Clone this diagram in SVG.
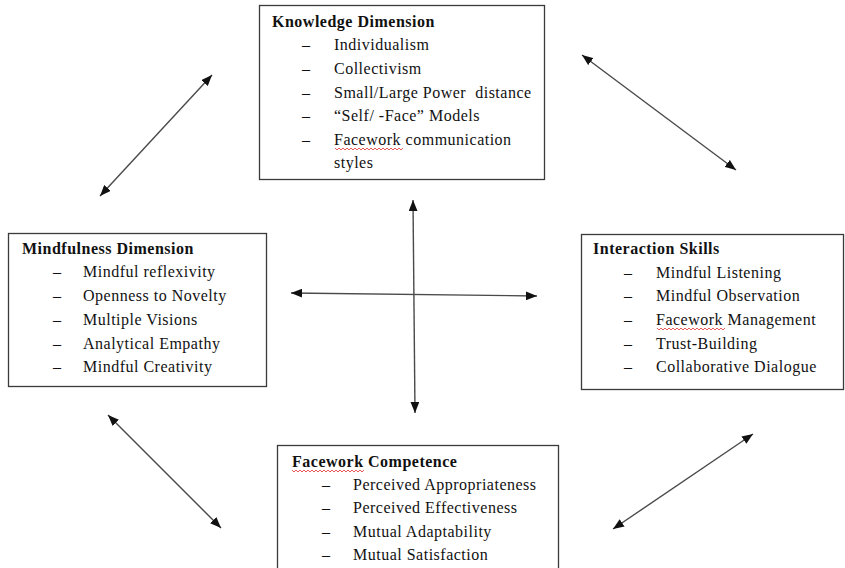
<svg xmlns="http://www.w3.org/2000/svg" width="845" height="568" viewBox="0 0 845 568">
<defs>
<style>
.box{fill:#fff;stroke:#3a3a3a;stroke-width:1.3}
.t{font-family:"Liberation Serif","Times New Roman",serif;font-size:16px;letter-spacing:0.5px;fill:#111}
.h{font-weight:bold}
.con{stroke:#4a4a4a;stroke-width:1.4;fill:none;marker-start:url(#ah);marker-end:url(#ah)}
.sq{fill:none;stroke:#e03030;stroke-width:0.8}
</style>
<marker id="ah" viewBox="0 0 10 8" refX="10" refY="4" markerWidth="11" markerHeight="9" markerUnits="userSpaceOnUse" orient="auto-start-reverse">
<path d="M0,0 L10,4 L0,8 z" fill="#111"/>
</marker>
</defs>
<rect width="845" height="568" fill="#fff"/>

<g id="knowledge">
<rect class="box" x="259.5" y="5.5" width="285" height="174"/>
<text class="t h" x="272" y="27">Knowledge Dimension</text>
<text class="t" x="302" y="50">–</text><text class="t" x="334" y="50">Individualism</text>
<text class="t" x="302" y="74">–</text><text class="t" x="334" y="74">Collectivism</text>
<text class="t" x="302" y="98">–</text><text class="t" x="334" y="98" xml:space="preserve">Small/Large Power  distance</text>
<text class="t" x="302" y="121">–</text><text class="t" x="334" y="121">“Self/ -Face” Models</text>
<text class="t" x="302" y="145">–</text><text class="t" x="334" y="145">Facework communication</text>
<text class="t" x="334" y="168">styles</text>
<path class="sq" d="M335,148 l2,2 l2,-2 l2,2 l2,-2 l2,2 l2,-2 l2,2 l2,-2 l2,2 l2,-2 l2,2 l2,-2 l2,2 l2,-2 l2,2 l2,-2 l2,2 l2,-2 l2,2 l2,-2 l2,2 l2,-2 l2,2 l2,-2 l2,2 l2,-2 l2,2 l2,-2 l2,2 l2,-2 l2,2 l2,-2 l2,2 l2,-2"/>
</g>

<g id="mindfulness">
<rect class="box" x="8.5" y="233.5" width="258" height="153"/>
<text class="t h" x="22" y="254">Mindfulness Dimension</text>
<text class="t" x="53" y="277">–</text><text class="t" x="83" y="277">Mindful reflexivity</text>
<text class="t" x="53" y="301">–</text><text class="t" x="83" y="301">Openness to Novelty</text>
<text class="t" x="53" y="325">–</text><text class="t" x="83" y="325">Multiple Visions</text>
<text class="t" x="53" y="349">–</text><text class="t" x="83" y="349">Analytical Empathy</text>
<text class="t" x="53" y="372">–</text><text class="t" x="83" y="372">Mindful Creativity</text>
</g>

<g id="interaction">
<rect class="box" x="581.5" y="234.5" width="262" height="155"/>
<text class="t h" x="593" y="254">Interaction Skills</text>
<text class="t" x="624" y="278">–</text><text class="t" x="656" y="278">Mindful Listening</text>
<text class="t" x="624" y="301">–</text><text class="t" x="656" y="301">Mindful Observation</text>
<text class="t" x="624" y="325">–</text><text class="t" x="656" y="325">Facework Management</text>
<text class="t" x="624" y="349">–</text><text class="t" x="656" y="349">Trust-Building</text>
<text class="t" x="624" y="372">–</text><text class="t" x="656" y="372">Collaborative Dialogue</text>
<path class="sq" d="M657,328 l2,2 l2,-2 l2,2 l2,-2 l2,2 l2,-2 l2,2 l2,-2 l2,2 l2,-2 l2,2 l2,-2 l2,2 l2,-2 l2,2 l2,-2 l2,2 l2,-2 l2,2 l2,-2 l2,2 l2,-2 l2,2 l2,-2 l2,2 l2,-2 l2,2 l2,-2 l2,2 l2,-2 l2,2 l2,-2 l2,2 l2,-2"/>
</g>

<g id="facework">
<rect class="box" x="277.5" y="445.5" width="281" height="130"/>
<text class="t h" x="292" y="467">Facework Competence</text>
<text class="t" x="322" y="490">–</text><text class="t" x="353" y="490">Perceived Appropriateness</text>
<text class="t" x="322" y="513">–</text><text class="t" x="353" y="513">Perceived Effectiveness</text>
<text class="t" x="322" y="537">–</text><text class="t" x="353" y="537">Mutual Adaptability</text>
<text class="t" x="322" y="560">–</text><text class="t" x="353" y="560">Mutual Satisfaction</text>
<path class="sq" d="M292,470 l2,2 l2,-2 l2,2 l2,-2 l2,2 l2,-2 l2,2 l2,-2 l2,2 l2,-2 l2,2 l2,-2 l2,2 l2,-2 l2,2 l2,-2 l2,2 l2,-2 l2,2 l2,-2 l2,2 l2,-2 l2,2 l2,-2 l2,2 l2,-2 l2,2 l2,-2 l2,2 l2,-2 l2,2 l2,-2 l2,2 l2,-2 l2,2 l2,-2"/>
</g>

<g id="connectors">
<line class="con" x1="413" y1="200" x2="415" y2="413"/>
<line class="con" x1="291" y1="293" x2="537" y2="296"/>
<line class="con" x1="212" y1="75" x2="100" y2="196"/>
<line class="con" x1="582" y1="55" x2="736" y2="170"/>
<line class="con" x1="108" y1="415" x2="221" y2="528"/>
<line class="con" x1="753" y1="434" x2="613" y2="529"/>
</g>
</svg>
